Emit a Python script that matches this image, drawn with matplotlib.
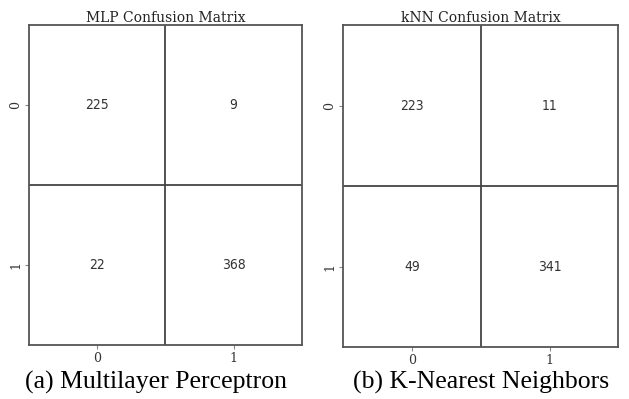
import matplotlib.pyplot as plt
import numpy as np
from matplotlib.colors import ListedColormap

# confusion matrices
labels = ['0', '1']
mlp_cm = [[225, 9], [22, 368]]
knn_cm = [[223, 11], [49, 341]]
titles = ['MLP Confusion Matrix', 'kNN Confusion Matrix']
captions = ['(a) Multilayer Perceptron', '(b) K-Nearest Neighbors']

fig = plt.figure(figsize=(6.29, 3.99), dpi=100)
boxes = [[0.046, 0.135, 0.434, 0.802], [0.546, 0.130, 0.437, 0.807]]
cap_x = [0.248, 0.765]

for box, cm, title, cap, cx in zip(boxes, [mlp_cm, knn_cm], titles, captions, cap_x):
    ax = fig.add_axes(box)
    cm = np.array(cm)
    ax.imshow(cm, cmap=ListedColormap(['white']), aspect='auto')
    for i in range(2):
        for j in range(2):
            ax.text(j, i, str(cm[i, j]), ha='center', va='center',
                    fontsize=10, color='#333333', family='DejaVu Sans',
                    fontstretch='condensed')
    ax.axhline(0.5, color='#444444', lw=1.3)
    ax.axvline(0.5, color='#444444', lw=1.3)
    ax.set_xticks([0, 1])
    ax.set_yticks([0, 1])
    ax.set_xticklabels(labels, family='DejaVu Serif', fontsize=9, color='#333333')
    ax.set_yticklabels(labels, family='DejaVu Serif', fontsize=9, color='#333333',
                       rotation=90, va='center')
    ax.tick_params(length=3, color='#888888', pad=2)
    for s in ax.spines.values():
        s.set_color('#555555')
        s.set_linewidth(1.3)
    ax.set_title(title, family='DejaVu Serif', fontsize=10, color='#222222', pad=2)
    fig.text(cx, 0.012, cap, ha='center', va='bottom', family='Liberation Serif',
             fontsize=18.5, color='black')

fig.savefig('out.png', dpi=100)
